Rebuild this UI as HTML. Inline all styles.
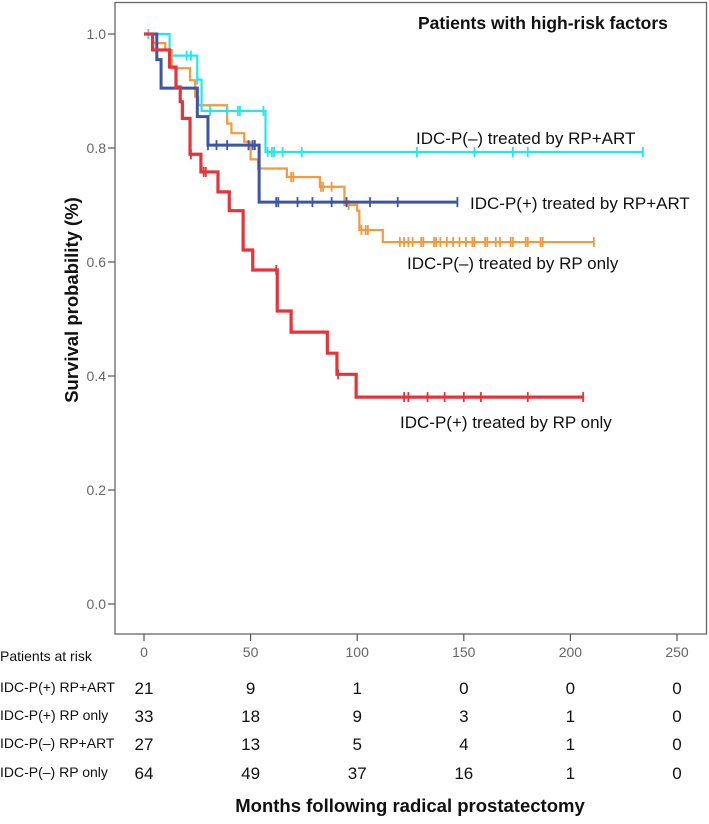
<!DOCTYPE html>
<html><head><meta charset="utf-8"><style>
body{margin:0;background:#fff;}
svg{display:block;font-family:"Liberation Sans",sans-serif;}
</style></head><body>
<svg id="chart" width="709" height="824" viewBox="0 0 709 824">
<rect x="115" y="2.5" width="591.5" height="631.5" fill="none" stroke="#666" stroke-width="1.3"/>
<g id="yaxis"></g>
<g id="xaxis"></g>
<g id="curves"></g>
<text x="418" y="29" font-size="17.5" font-weight="bold" fill="#111">Patients with high-risk factors</text>
<text transform="translate(78,300) rotate(-90)" text-anchor="middle" font-size="18.5" font-weight="bold" fill="#111">Survival probability (%)</text>
<g font-family="'Liberation Sans','DejaVu Sans',sans-serif" font-size="17" fill="#111">
<text x="416" y="144">IDC-P(–) treated by RP+ART</text>
<text x="470" y="209">IDC-P(+) treated by RP+ART</text>
<text x="407" y="269">IDC-P(–) treated by RP only</text>
<text x="400" y="428">IDC-P(+) treated by RP only</text>
</g>
<g id="risk"></g>
<text x="410" y="812" text-anchor="middle" font-size="18.5" font-weight="bold" fill="#111">Months following radical prostatectomy</text>
</svg>
<script>
const xTicks=[0,50,100,150,200,250];
const yTicks=[0,0.2,0.4,0.6,0.8,1.0];
const seriesNames=["IDC-P(+) RP+ART","IDC-P(+) RP only","IDC-P(–) RP+ART","IDC-P(–) RP only"];
// step curves: times and survival after event
const blueT=[0,6,8,25,30,54,147];
const blueS=[1,0.955,0.905,0.855,0.805,0.705,0.705];
const blueC=[30,34,39,49,51,52,62,63,72,79,88,95,106,119,147];
const redT=[0,4,12,15,17,18,21.6,26.7,34.7,40,46.5,51,62.5,69,86,90.5,99.5,206];
const redS=[1,0.972,0.942,0.907,0.881,0.852,0.789,0.758,0.723,0.690,0.621,0.586,0.514,0.477,0.440,0.403,0.363,0.363];
const redC=[22,28,29,62,91,122,124,133,141,150,158,180,206];
const cyanT=[0,12,25,27,57,234];
const cyanS=[1,0.962,0.92,0.865,0.793,0.793];
const cyanC=[2,12,20,22,25,31,39,44,45,56,58,60,61,65,74,128,155,173,180,234];
const orangeT=[0,4,10,13,21.6,24,25.5,39,41,47,50,53.5,67,82.5,94,100,101,112,211];
const orangeS=[1,0.984,0.972,0.940,0.919,0.89,0.875,0.843,0.826,0.811,0.780,0.764,0.749,0.732,0.700,0.69,0.656,0.635,0.635];
const orangeC=[69,70,83,84,88,96,102,104,105,120,122,124,126,130,131,136,137,139,142,145,148,151,154,155,160,161,165,167,172,173,179,180,186,187,211];
const riskRows=[[21,9,1,0,0,0],[33,18,9,3,1,0],[27,13,5,4,1,0],[64,49,37,16,1,0]];

const NS="http://www.w3.org/2000/svg";
function X(t){return 144+t*2.132;}
function Y(s){return 604-s*570;}
function mk(tag,attrs,parent){const e=document.createElementNS(NS,tag);for(const k in attrs)e.setAttribute(k,attrs[k]);parent.appendChild(e);return e;}
const ya=document.getElementById('yaxis');
yTicks.forEach(v=>{
  const l=mk('line',{x1:108,x2:115,y1:Y(v),y2:Y(v),stroke:'#555','stroke-width':1.2},ya);
  
  
  const t=mk('text',{x:106,y:Y(v)+5,'text-anchor':'end','font-size':14,fill:'#666'},ya);
  t.textContent=v.toFixed(1);
  
  
});
const xa=document.getElementById('xaxis');
xTicks.forEach(v=>{
  const l=mk('line',{x1:X(v),x2:X(v),y1:634,y2:641,stroke:'#555','stroke-width':1.2},xa);
  
  
  const t=mk('text',{x:X(v),y:657,'text-anchor':'middle','font-size':14,fill:'#666'},xa);
  t.textContent=v;
  
  
});
function survAt(T,S,t){let s=S[0];for(let i=0;i<T.length;i++){if(T[i]<=t)s=S[i];}return s;}
function drawCurve(T,S,C,color,w,name){
  const g=document.getElementById('curves');
  let d='M'+X(T[0])+','+Y(S[0]);
  for(let i=1;i<T.length;i++){d+=' H'+X(T[i])+' V'+Y(S[i]);}
  const p=mk('path',{d:d,fill:'none',stroke:color,'stroke-width':w},g);
  
  
  C.forEach(c=>{
    const y=Y(survAt(T,S,c));
    const m=mk('line',{x1:X(c),x2:X(c),y1:y-5,y2:y+5,stroke:color,'stroke-width':1.8},g);
    
    
  });
}
drawCurve(orangeT,orangeS,orangeC,'#f7983a',2.2,'curve-neg-rp-only');
drawCurve(cyanT,cyanS,cyanC,'#1fe8ee',2.2,'curve-neg-rp-art');
drawCurve(blueT,blueS,blueC,'#3c55a6',3,'curve-pos-rp-art');
drawCurve(redT,redS,redC,'#e8323a',3.2,'curve-pos-rp-only');
const rk=document.getElementById('risk');
const hdr=mk('text',{x:0,y:661,'font-size':14,fill:'#111','font-family':"'Liberation Sans',sans-serif"},rk);
hdr.textContent='Patients at risk';


const rowY=[692,720,748,777];
riskRows.forEach((row,i)=>{
  const t=mk('text',{x:0,y:rowY[i],'font-size':14,fill:'#111'},rk);
  t.textContent=seriesNames[i];
  
  
  row.forEach((n,j)=>{
    const c=mk('text',{x:X(xTicks[j]),y:rowY[i]+2,'text-anchor':'middle','font-size':17,fill:'#111'},rk);
    c.textContent=n;
    
    
  });
});
</script>
</body></html>
